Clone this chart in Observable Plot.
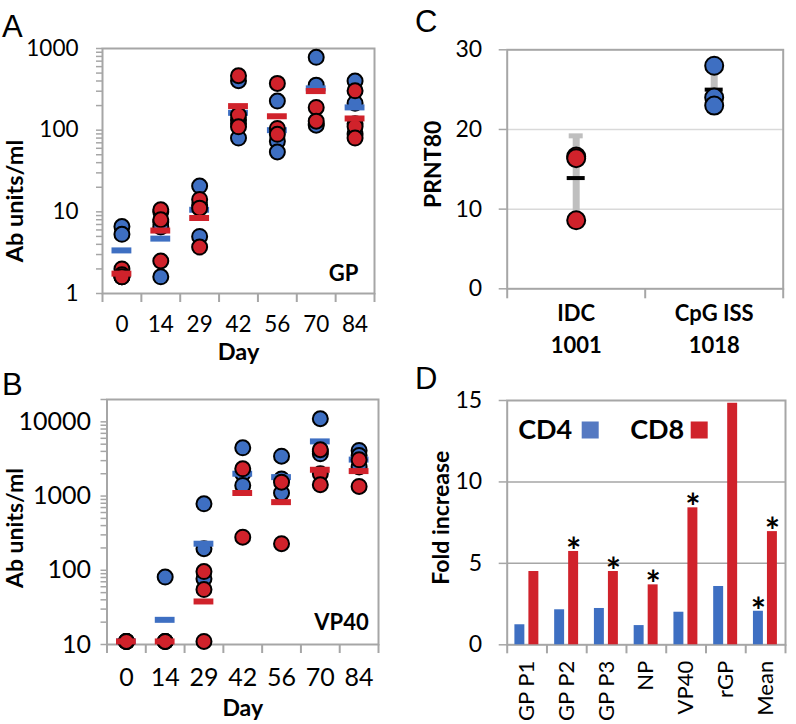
<!DOCTYPE html>
<html><head><meta charset="utf-8">
<script src="https://cdn.jsdelivr.net/npm/d3@7"></script>
<script src="https://cdn.jsdelivr.net/npm/@observablehq/plot@0.6"></script>
<style>
body{margin:0;background:#fff;}
#root{position:relative;width:796px;height:724px;overflow:hidden;background:#fff;font-family:Lato,sans-serif;}
.panel{position:absolute;}
.letter{position:absolute;font-family:"Liberation Sans",Arial,sans-serif;font-size:31px;line-height:1;color:#000;}
</style></head><body><div id="root"></div>
<script>
// ---------- Panel A: GP antibody (log) ----------
const days = ["0","14","29","42","56","70","84"];
const gpBlue = [[6.6,5.3,1.6,1.6],[10,7.5,6.5,1.6],[20.7,12,5.0],[403,133,120,80],[227,100,73,54],[780,356,120,115],[400,214,120,90]];
const gpRed  = [[2.0,1.7,1.6],[10.6,8.0,2.5],[14.2,11.1,3.7],[464,153,110],[374,105,89],[190,129],[303,111,80]];
const gpBlueMean = [3.37,4.7,10.6,163,100,325,190];
const gpRedMean  = [1.75,5.9,8.4,197,148,301,139];
const gpMajorTicks = [1,10,100,1000];

// ---------- Panel B: VP40 antibody (log) ----------
const vpBlue = [[11,11],[81,11],[787,195,77],[4470,2000,1390],[3450,1700,1100],[11000,4000,3710],[4120,3520,2460]];
const vpRed  = [[11,11],[11,11],[96,55,11],[2330,279],[1540,228],[4210,2000,1420],[3080,1350]];
const vpBlueMean = [11,21.5,228,2000,1800,5450,3100];
const vpRedMean  = [11,11,38,1100,828,2260,2170];
const vpMajorTicks = [10,100,1000,10000];

// ---------- Panel C: PRNT80 ----------
const cGroups = ["IDC\n1001","CpG ISS\n1018"];
const cPoints = [[16.6,16.4,8.6],[28.0,24.0,23.0]];
const cColors = ["red","blue"];
const cMean = [13.9,25.0];
const cSD = [5.3,2.6];
const cTicks = [0,10,20,30];

// ---------- Panel D: fold increase ----------
const dCats = ["GP P1","GP P2","GP P3","NP","VP40","rGP","Mean"];
const cd4 = [1.23,2.15,2.23,1.18,2.0,3.58,2.06];
const cd8 = [4.5,5.73,4.5,3.68,8.41,14.83,6.95];
const cd4Star = [0,0,0,0,0,0,1];
const cd8Star = [0,1,1,1,1,0,1];
const dTicks = [0,5,10,15];

const BLUE = "#3e6fc2", RED = "#d0222b", GRAY = "#a6a6a6";
const FONT = {fontFamily: "Lato, sans-serif", fontSize: "22px", color: "#000", overflow: "visible", background: "transparent"};
const flat = arrs => arrs.flatMap((vals, i) => vals.map(v => ({i, v})));
const means = arr => arr.map((v, i) => ({i, v}));
const withMinors = majors => {
  const out = [];
  majors.forEach((m, k) => { out.push(m); if (k < majors.length - 1) for (let j = 2; j <= 9; j++) out.push(m * j); });
  return out;
};
const C = {textAnchor: "middle", lineAnchor: "middle"};

function logPanel(o) {
  const allTicks = withMinors(o.majors).concat(o.extraMinor || []);
  return Plot.plot({
    width: 398, height: o.height,
    marginLeft: o.ml, marginRight: o.mr, marginTop: o.mt, marginBottom: o.mb,
    x: {domain: [0, 7]},
    y: {type: "log", domain: o.yDomain},
    style: FONT,
    marks: [
      Plot.axisY({ticks: allTicks, label: null, tickSize: 6, tickPadding: o.yPad, fontSize: o.tickFont, tickFormat: d => o.majors.includes(d) ? String(d) : "", stroke: GRAY, fill: "#000", strokeWidth: 1.5}),
      Plot.axisX({ticks: d3.range(8), label: null, tickSize: 9, tickFormat: () => "", stroke: GRAY, strokeWidth: 2}),
      Plot.axisX({ticks: days.map((d, i) => i + 0.5), label: null, tickSize: 0, tickPadding: o.xPad, fontSize: o.tickFont, tickFormat: d => days[Math.floor(d)], fill: "#000"}),
      Plot.frame({stroke: GRAY, strokeWidth: 2}),
      Plot.dot(flat(o.blue), {x: d => d.i + 0.5, y: "v", r: 7.5, fill: BLUE, stroke: "#000", strokeWidth: 2}),
      Plot.ruleY(means(o.blueMean), {x1: "i", x2: d => d.i + 1, y: "v", stroke: BLUE, strokeWidth: 6, insetLeft: 9.5, insetRight: 9.5}),
      Plot.dot(flat(o.red), {x: d => d.i + 0.5, y: "v", r: 7.5, fill: RED, stroke: "#000", strokeWidth: 2}),
      Plot.ruleY(means(o.redMean), {x1: "i", x2: d => d.i + 1, y: "v", stroke: RED, strokeWidth: 6, insetLeft: 9.5, insetRight: 9.5}),
      Plot.text(["Ab units/ml"], {...C, frameAnchor: "left", rotate: -90, dx: o.ylx, dy: o.yly, fontWeight: "bold", fontSize: o.titleFont}),
      Plot.text(["Day"], {...C, frameAnchor: "bottom", dy: o.dayDy, fontWeight: "bold", fontSize: o.titleFont}),
      Plot.text([o.tag], {...C, frameAnchor: "bottom-right", dx: o.tagDx, dy: o.tagDy, fontWeight: "bold", fontSize: 22})
    ]
  });
}

const root = document.getElementById("root");
function place(el, left, top) {
  const d = document.createElement("div");
  d.className = "panel"; d.style.left = left + "px"; d.style.top = top + "px";
  d.appendChild(el); root.appendChild(d);
}
function letter(t, left, top) {
  const d = document.createElement("div");
  d.className = "letter"; d.textContent = t; d.style.left = left + "px"; d.style.top = top + "px";
  root.appendChild(d);
}

// Panel A
place(logPanel({
  height: 360, ml: 102, mr: 24, mt: 48, mb: 67, yDomain: [1, 1000], majors: gpMajorTicks,
  blue: gpBlue, red: gpRed, blueMean: gpBlueMean, redMean: gpRedMean, tickFont: 22.5, titleFont: 23.5,
  yPad: 18, xPad: 23, ylx: -87, yly: 30, dayDy: 59, tag: "GP", tagDx: -31, tagDy: -20
}), 0, 0);

// Panel B
place(logPanel({
  height: 364, ml: 106.5, mr: 20, mt: 39, mb: 80, yDomain: [10, 20000], majors: vpMajorTicks, extraMinor: [20000],
  blue: vpBlue, red: vpRed, blueMean: vpBlueMean, redMean: vpRedMean, tickFont: 25, titleFont: 23,
  yPad: 10, xPad: 24, ylx: -91.5, yly: 6, dayDy: 64, tag: "VP40", tagDx: -37, tagDy: -22
}), 0, 360);

// Panel C
const cPts = cPoints.flatMap((vals, i) => vals.map(v => ({i, v, c: cColors[i]})));
const cStats = cMean.map((m, i) => ({i, m, lo: m - cSD[i], hi: m + cSD[i]}));
place(Plot.plot({
  width: 398, height: 360, marginLeft: 108.7, marginRight: 13.3, marginTop: 49.3, marginBottom: 71.7,
  x: {domain: [0, 2]}, y: {domain: [0, 30]}, style: FONT,
  marks: [
    Plot.ruleY([10, 20], {stroke: "#d9d9d9", strokeWidth: 1.5}),
    Plot.axisY({ticks: cTicks, label: null, tickSize: 8, tickPadding: 17, fontSize: 23, stroke: GRAY, strokeWidth: 1.5, fill: "#000"}),
    Plot.axisX({ticks: [0, 1, 2], label: null, tickSize: 10, tickFormat: () => "", stroke: GRAY, strokeWidth: 2}),
    Plot.axisX({ticks: [0.5, 1.5], label: null, tickSize: 0, tickPadding: 10, lineHeight: 1.45, tickFormat: d => cGroups[Math.floor(d)], fontWeight: "bold", fill: "#000"}),
    Plot.frame({stroke: GRAY, strokeWidth: 2}),
    Plot.ruleX(cStats, {x: d => d.i + 0.5, y1: "lo", y2: "hi", stroke: "#bfbfbf", strokeWidth: 7}),
    Plot.ruleY(cStats, {x1: "i", x2: d => d.i + 1, y: "hi", stroke: "#bfbfbf", strokeWidth: 5, insetLeft: 62, insetRight: 62}),
    Plot.ruleY(cStats, {x1: "i", x2: d => d.i + 1, y: "m", stroke: "#000", strokeWidth: 4, insetLeft: 60, insetRight: 60}),
    Plot.dot(cPts, {x: d => d.i + 0.5, y: "v", r: 9, fill: d => d.c === "red" ? RED : BLUE, stroke: "#000", strokeWidth: 2}),
    Plot.text(["PRNT80"], {...C, frameAnchor: "left", rotate: -90, dx: -73.7, dy: -5, fontWeight: "bold", fontSize: 23})
  ]
}), 398, 0);

// Panel D
const dRows4 = cd4.map((v, i) => ({i, v, s: cd4Star[i]}));
const dRows8 = cd8.map((v, i) => ({i, v, s: cd8Star[i]}));
place(Plot.plot({
  width: 398, height: 364, marginLeft: 108.7, marginRight: 11, marginTop: 40, marginBottom: 79.7,
  x: {domain: [0, 7]}, y: {domain: [0, 15]}, style: FONT,
  marks: [
    Plot.ruleY([5, 10], {stroke: GRAY, strokeWidth: 1.5}),
    Plot.axisY({ticks: dTicks, label: null, tickSize: 8, tickPadding: 17, fontSize: 23, stroke: GRAY, strokeWidth: 1.5, fill: "#000"}),
    Plot.axisX({ticks: d3.range(8), label: null, tickSize: 9, tickFormat: () => "", stroke: GRAY, strokeWidth: 2}),
    Plot.axisX({ticks: dCats.map((d, i) => i + 0.5), label: null, tickSize: 0, tickPadding: 16, fontSize: 22, tickRotate: -90, tickFormat: d => dCats[Math.floor(d)], fill: "#000"}),
    Plot.frame({stroke: GRAY, strokeWidth: 2}),
    Plot.rectY(dRows4, {x1: "i", x2: d => d.i + 1, y: "v", fill: BLUE, insetLeft: 7.7, insetRight: 22.1}),
    Plot.rectY(dRows8, {x1: "i", x2: d => d.i + 1, y: "v", fill: RED, insetLeft: 21.7, insetRight: 8.1}),
    Plot.text(dRows4.filter(d => d.s), {x: d => d.i + 0.32, y: "v", text: () => "*", fontSize: 36, fontWeight: "bold", dy: 1}),
    Plot.text(dRows8.filter(d => d.s), {x: d => d.i + 0.67, y: "v", text: () => "*", fontSize: 36, fontWeight: "bold", dy: 1}),
    Plot.text(["CD4"], {frameAnchor: "top-left", textAnchor: "start", lineAnchor: "middle", dx: 11, dy: 30, fontSize: 27, fontWeight: "bold"}),
    Plot.dot([0], {frameAnchor: "top-left", dx: 83, dy: 29.5, symbol: "square", r: 9.6, fill: "#5579c2"}),
    Plot.text(["CD8"], {frameAnchor: "top-left", textAnchor: "start", lineAnchor: "middle", dx: 123, dy: 30, fontSize: 27, fontWeight: "bold"}),
    Plot.dot([0], {frameAnchor: "top-left", dx: 192, dy: 29.5, symbol: "square", r: 9.6, fill: RED}),
    Plot.text(["Fold increase"], {...C, frameAnchor: "left", rotate: -90, dx: -65.7, dy: -5, fontWeight: "bold", fontSize: 23})
  ]
}), 398, 360);

letter("A", 2, 11);
letter("B", 2, 369);
letter("C", 415, 6);
letter("D", 415, 363);
</script></body></html>
